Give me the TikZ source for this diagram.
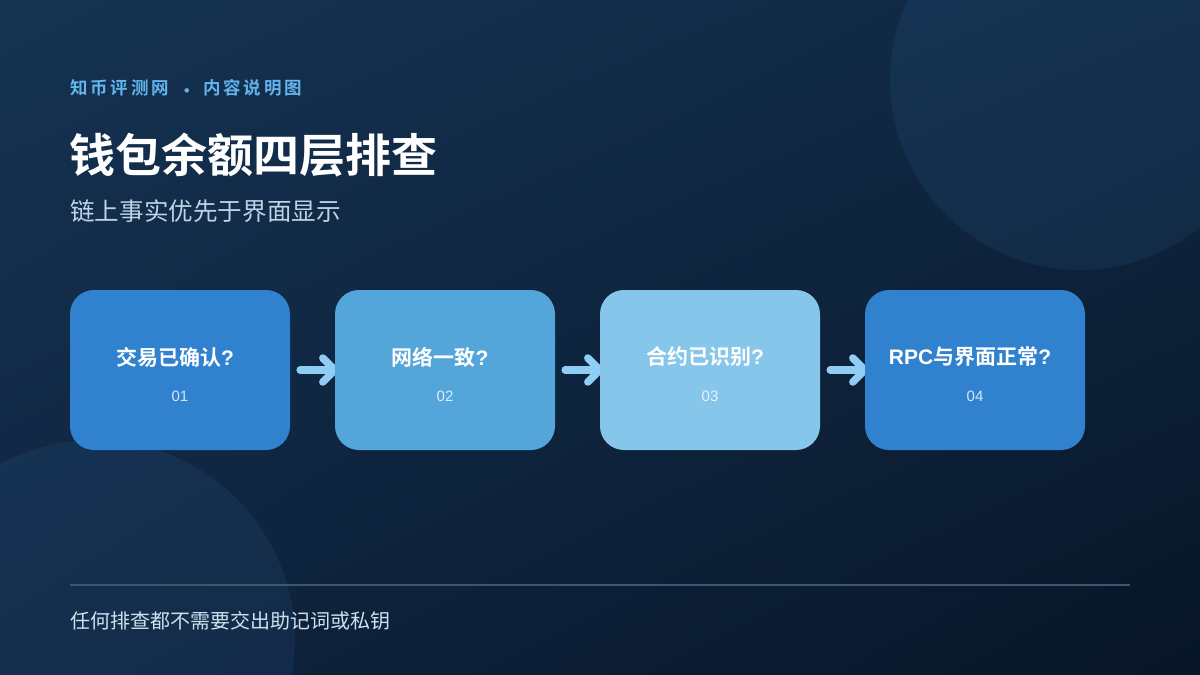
\documentclass[tikz,border=0pt]{standalone}
\usepackage{fontspec}
\setmainfont{Noto Sans CJK SC}
\newfontfamily\cjkbold{Noto Sans CJK SC Bold}
\newfontfamily\latinbold{Liberation Sans Bold}
\newfontfamily\latinreg{Liberation Sans}
\usetikzlibrary{positioning,calc,shadings}
\pgfdeclarelayer{back}
\pgfdeclarelayer{mid}
\pgfsetlayers{back,mid,main}
\definecolor{bgA}{HTML}{153352}
\definecolor{bgB}{HTML}{0F2742}
\definecolor{bgC}{HTML}{0F2440}
\definecolor{bgD}{HTML}{081627}
\definecolor{kicker}{HTML}{63B3ED}
\definecolor{subt}{HTML}{BFD3E6}
\definecolor{boxA}{HTML}{3182CE}
\definecolor{boxB}{HTML}{54A5DA}
\definecolor{boxC}{HTML}{86C6EA}
\definecolor{arrowc}{HTML}{90CDF4}
\definecolor{rulec}{HTML}{3B5873}
\definecolor{foot}{HTML}{CFE0EE}
\definecolor{circ}{HTML}{3A78B0}
\tikzset{
  stepbox/.style={rounded corners=24pt, minimum width=220pt, minimum height=160pt, inner sep=0pt, draw=none},
  boxtitle/.style={text=white, font=\cjkbold\fontsize{21}{25}\selectfont, inner sep=0pt},
  boxnum/.style={text=white, text opacity=0.8, font=\latinreg\fontsize{15}{18}\selectfont, inner sep=0pt},
  flowarrow/.style={draw=arrowc, line width=7.5pt, line cap=round, line join=round},
  txt/.style={inner sep=0pt, anchor=west},
  kickstyle/.style={inner sep=0pt, text=kicker, font=\cjkbold\fontsize{17.5}{20}\selectfont\addfontfeatures{LetterSpace=16}}
}
\newcommand{\qm}{{\latinbold ?}}
\begin{document}
\begin{tikzpicture}[x=1pt,y=-1pt]
\useasboundingbox (0,0) rectangle (1200,675);
\begin{pgfonlayer}{back}
  \shade[upper left=bgA, upper right=bgB, lower left=bgC, lower right=bgD] (0,0) rectangle (1200,675);
  \begin{scope}
    \clip (0,0) rectangle (1200,675);
    \fill[circ, opacity=0.12] (1080,80) circle (190);
    \fill[circ, opacity=0.12] (95,640) circle (200);
  \end{scope}
\end{pgfonlayer}

\node[kickstyle, anchor=west] (kick1) at (70,88) {知币评测网};
\node[kickstyle] (kdot) at (187,93) {·};
\node[kickstyle, anchor=west] (kick2) at (203,88) {内容说明图};
\node[txt, text=white, font=\cjkbold\fontsize{46}{54}\selectfont] (title) at (69,155) {钱包余额四层排查};
\node[txt, text=subt, font=\fontsize{24.6}{29}\selectfont] (sub) at (70,211) {链上事实优先于界面显示};

\node[stepbox, fill=boxA] (b1) at (180,370) {};
\node[stepbox, fill=boxB] (b2) at (445,370) {};
\node[stepbox, fill=boxC] (b3) at (710,370) {};
\node[stepbox, fill=boxA] (b4) at (975,370) {};

\node[boxtitle] (t1) at (175,357) {交易已确认\qm};
\node[boxtitle] (t2) at (440,357) {网络一致\qm};
\node[boxtitle] (t3) at (705,357) {合约已识别\qm};
\node[boxtitle] (t4) at (970,357) {{\latinbold RPC}与界面正常\qm};
\node[boxnum] (n1) at (180,396) {01};
\node[boxnum] (n2) at (445,396) {02};
\node[boxnum] (n3) at (710,396) {03};
\node[boxnum] (n4) at (975,396) {04};

\begin{pgfonlayer}{mid}
  \foreach \a/\b in {b1/b2,b2/b3,b3/b4}{
    \draw[flowarrow] ([xshift=10pt]\a.east) -- ([xshift=-2pt]\b.west);
    \draw[flowarrow] ([xshift=-12pt,yshift=12pt]\b.west) -- (\b.west) -- ([xshift=-12pt,yshift=-12pt]\b.west);
  }
\end{pgfonlayer}

\coordinate (r1) at (70,585);
\coordinate (r2) at (1130,585);
\draw[rulec, line width=1.5pt] (r1) -- (r2);
\node[txt, text=foot, font=\fontsize{20}{24}\selectfont] (foot) at (70,621) {任何排查都不需要交出助记词或私钥};
\end{tikzpicture}
\end{document}
